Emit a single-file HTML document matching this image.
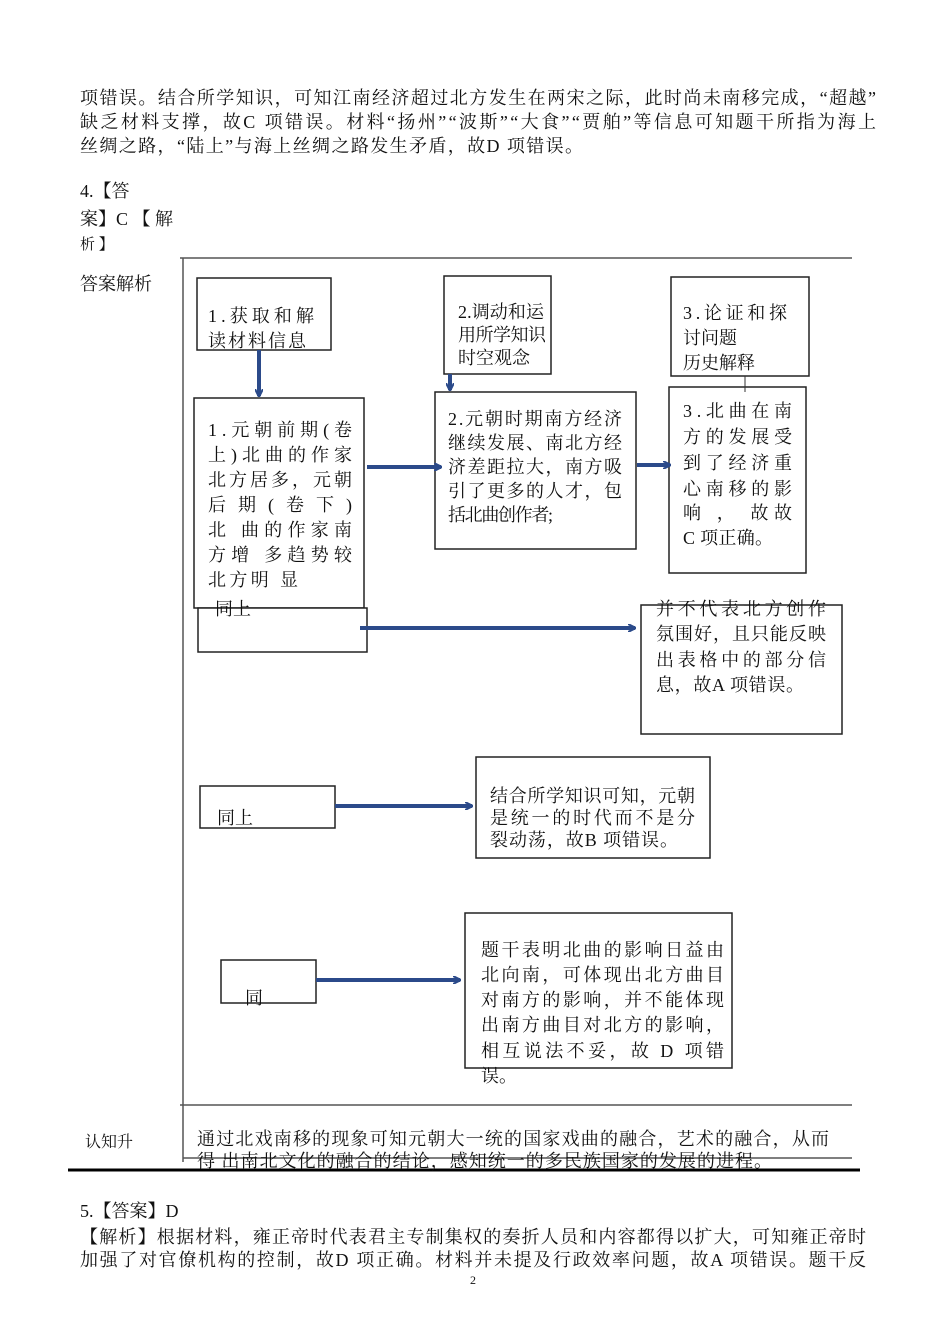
<!DOCTYPE html>
<html><head><meta charset="utf-8"><style>
body{margin:0;background:#fff}
svg{display:block}
text{font-family:"Liberation Serif","Noto Serif CJK SC",serif;font-size:18px;fill:#111}
</style></head><body>
<svg width="950" height="1344" viewBox="0 0 950 1344" xmlns="http://www.w3.org/2000/svg">
<defs>
<marker id="ah" markerWidth="8" markerHeight="8" refX="7" refY="4" orient="auto" markerUnits="userSpaceOnUse"><path d="M0,0 L8,4 L0,8" fill="none" stroke="#2b4a8a" stroke-width="2"/></marker>
</defs>
<text x="80" y="104" textLength="796" lengthAdjust="spacing">项错误。结合所学知识，可知江南经济超过北方发生在两宋之际，此时尚未南移完成，“超越”</text>
<text x="80" y="128" textLength="796" lengthAdjust="spacing">缺乏材料支撑，故C 项错误。材料“扬州”“波斯”“大食”“贾舶”等信息可知题干所指为海上</text>
<text x="80" y="152" textLength="503" lengthAdjust="spacing">丝绸之路，“陆上”与海上丝绸之路发生矛盾，故D 项错误。</text>
<text x="80" y="197">4.【答</text>
<text x="80" y="225">案】C 【 解</text>
<text x="80" y="249" style="font-size:15px">析 】</text>
<text x="80" y="290">答案解析</text>
<g stroke="#555" stroke-width="1.5" fill="none">
<line x1="180" y1="258" x2="852" y2="258"/>
<line x1="183" y1="258" x2="183" y2="1162"/>
<line x1="180" y1="1105" x2="852" y2="1105"/>
<line x1="183" y1="1158" x2="852" y2="1158"/>
</g>
<line x1="68" y1="1170" x2="860" y2="1170" stroke="#000" stroke-width="3"/>
<g stroke="#222" stroke-width="1.5" fill="#fff">
<rect x="197" y="278" width="134" height="72"/>
<rect x="194" y="398" width="170" height="210"/>
<rect x="198" y="608" width="169" height="44"/>
<rect x="444" y="276" width="107" height="98"/>
<rect x="435" y="392" width="201" height="157"/>
<rect x="671" y="277" width="138" height="99"/>
<rect x="669" y="387" width="137" height="186"/>
<rect x="641" y="605" width="201" height="129"/>
<rect x="200" y="786" width="135" height="42"/>
<rect x="476" y="757" width="234" height="101"/>
<rect x="221" y="960" width="95" height="43"/>
<rect x="465" y="913" width="267" height="155"/>
</g>
<g stroke="#2b4a8a" stroke-width="4" fill="none" marker-end="url(#ah)">
<line x1="259" y1="350" x2="259" y2="396"/>
<line x1="367" y1="467" x2="441" y2="467"/>
<line x1="450" y1="374" x2="450" y2="390"/>
<line x1="637" y1="465" x2="670" y2="465"/>
<line x1="360" y1="628" x2="635" y2="628"/>
<line x1="335" y1="806" x2="472" y2="806"/>
<line x1="316" y1="980" x2="460" y2="980"/>
</g>
<line x1="745" y1="376" x2="745" y2="392" stroke="#333" stroke-width="1"/>
<text x="208" y="322" textLength="106" lengthAdjust="spacing">1.获取和解</text>
<text x="208" y="347" textLength="98" lengthAdjust="spacing">读材料信息</text>
<text x="208" y="436" textLength="144" lengthAdjust="spacing">1.元朝前期(卷</text>
<text x="208" y="461" textLength="144" lengthAdjust="spacing">上)北曲的作家</text>
<text x="208" y="486" textLength="144" lengthAdjust="spacing">北方居多，元朝</text>
<text x="208" y="511" textLength="144" lengthAdjust="spacing">后 期 ( 卷 下 )</text>
<text x="208" y="536" textLength="144" lengthAdjust="spacing">北 曲的作家南</text>
<text x="208" y="561" textLength="144" lengthAdjust="spacing">方增 多趋势较</text>
<text x="208" y="586" textLength="90" lengthAdjust="spacing">北方明 显</text>
<text x="215" y="615">同上</text>
<text x="458" y="318" textLength="86" lengthAdjust="spacing">2.调动和运</text>
<text x="458" y="341" textLength="88" lengthAdjust="spacing">用所学知识</text>
<text x="458" y="364">时空观念</text>
<text x="448" y="425" textLength="174" lengthAdjust="spacing">2.元朝时期南方经济</text>
<text x="448" y="449" textLength="174" lengthAdjust="spacing">继续发展、南北方经</text>
<text x="448" y="473" textLength="174" lengthAdjust="spacing">济差距拉大，南方吸</text>
<text x="448" y="497" textLength="174" lengthAdjust="spacing">引了更多的人才，包</text>
<text x="448" y="521" textLength="105" lengthAdjust="spacing">括北曲创作者;</text>
<text x="683" y="319" textLength="104" lengthAdjust="spacing">3.论证和探</text>
<text x="683" y="344">讨问题</text>
<text x="683" y="369">历史解释</text>
<text x="683" y="417" textLength="109" lengthAdjust="spacing">3.北曲在南</text>
<text x="683" y="443" textLength="109" lengthAdjust="spacing">方的发展受</text>
<text x="683" y="469" textLength="109" lengthAdjust="spacing">到了经济重</text>
<text x="683" y="495" textLength="109" lengthAdjust="spacing">心南移的影</text>
<text x="683" y="519" textLength="109" lengthAdjust="spacing">响 ，  故故</text>
<text x="683" y="544" textLength="90" lengthAdjust="spacing">C 项正确。</text>
<text x="656" y="615" textLength="170" lengthAdjust="spacing">并不代表北方创作</text>
<text x="656" y="640" textLength="170" lengthAdjust="spacing">氛围好，且只能反映</text>
<text x="656" y="666" textLength="170" lengthAdjust="spacing">出表格中的部分信</text>
<text x="656" y="691" textLength="148" lengthAdjust="spacing">息，故A 项错误。</text>
<text x="217" y="824">同上</text>
<text x="490" y="802" textLength="205" lengthAdjust="spacing">结合所学知识可知，元朝</text>
<text x="490" y="824" textLength="205" lengthAdjust="spacing">是统一的时代而不是分</text>
<text x="490" y="846" textLength="188" lengthAdjust="spacing">裂动荡，故B 项错误。</text>
<text x="245" y="1004">同</text>
<text x="481" y="956" textLength="243" lengthAdjust="spacing">题干表明北曲的影响日益由</text>
<text x="481" y="981" textLength="243" lengthAdjust="spacing">北向南，可体现出北方曲目</text>
<text x="481" y="1006" textLength="243" lengthAdjust="spacing">对南方的影响，并不能体现</text>
<text x="481" y="1031" textLength="243" lengthAdjust="spacing">出南方曲目对北方的影响，</text>
<text x="481" y="1057" textLength="243" lengthAdjust="spacing">相互说法不妥，故 D 项错</text>
<text x="481" y="1082">误。</text>
<text x="85" y="1147" style="font-size:16px">认知升</text>
<text x="197" y="1145" textLength="632" lengthAdjust="spacing">通过北戏南移的现象可知元朝大一统的国家戏曲的融合，艺术的融合，从而</text>
<text x="197" y="1167" textLength="575" lengthAdjust="spacing">得 出南北文化的融合的结论，感知统一的多民族国家的发展的进程。</text>
<text x="80" y="1217">5.【答案】D</text>
<text x="80" y="1243" textLength="786" lengthAdjust="spacing">【解析】根据材料，雍正帝时代表君主专制集权的奏折人员和内容都得以扩大，可知雍正帝时</text>
<text x="80" y="1266" textLength="786" lengthAdjust="spacing">加强了对官僚机构的控制，故D 项正确。材料并未提及行政效率问题，故A 项错误。题干反</text>
<text x="470" y="1284" style="font-size:12px">2</text>
</svg>
</body></html>
